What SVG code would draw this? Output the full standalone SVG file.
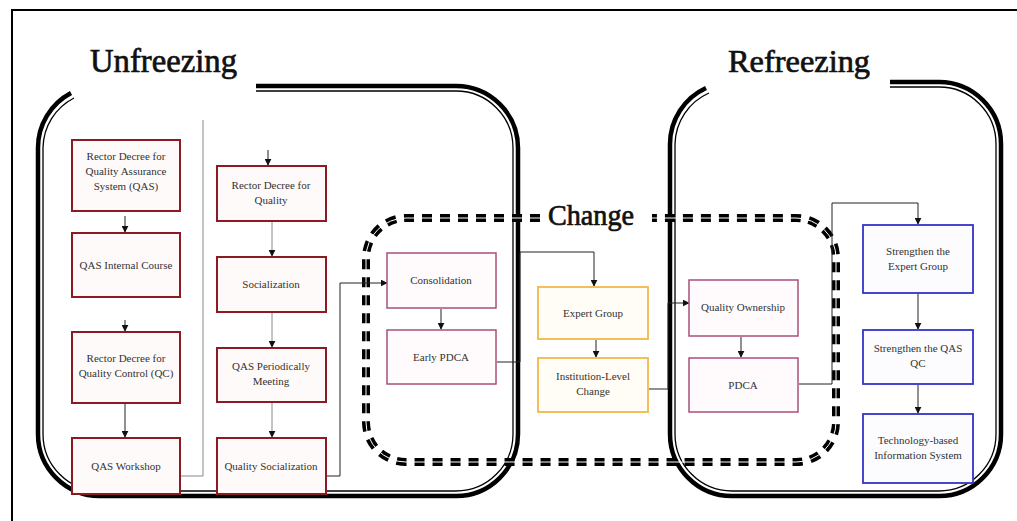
<svg xmlns="http://www.w3.org/2000/svg" width="1017" height="521" viewBox="0 0 1017 521">
<defs>
<marker id="ah" viewBox="0 0 10 10" refX="9" refY="5" markerWidth="7" markerHeight="7" orient="auto" markerUnits="userSpaceOnUse">
<path d="M0,0 L10,5 L0,10 z" fill="#111"/>
</marker>
</defs>
<style>
.title{font-family:"Liberation Serif","DejaVu Serif",serif;fill:#111;stroke:#111;stroke-width:0.7;}
.t{font-family:"Liberation Serif","DejaVu Serif",serif;font-size:11px;fill:#333;text-anchor:middle;}
.red{fill:#fffafa;stroke:#8b1a24;stroke-width:2;}
.pink{fill:#fffafc;stroke:#a8507a;stroke-width:1.5;}
.org{fill:#fffdf6;stroke:#f2b84a;stroke-width:1.8;}
.blue{fill:#fcfcff;stroke:#3434c8;stroke-width:1.8;}
.c{fill:none;stroke:#222;stroke-width:1;}
.cg{fill:none;stroke:#888;stroke-width:1;}
.fo{fill:none;stroke:#000;stroke-width:4.5;}
.fi{fill:none;stroke:#000;stroke-width:1.3;}
</style>
<rect width="1017" height="521" fill="#fff"/>
<path d="M12 521 L12 10 L1017 10" fill="none" stroke="#000" stroke-width="2"/>

<g id="frame-unfreezing">
<path class="fo" d="M256 86 L456 86 A62 62 0 0 1 518 148 L518 434 A62 62 0 0 1 456 496 L100 496 A62 62 0 0 1 38 434 L38 148 A62 62 0 0 1 71 93"/>
<path class="fi" d="M256 91 L456 91 A57 57 0 0 1 513 148 L513 434 A57 57 0 0 1 456 491 L100 491 A57 57 0 0 1 43 434 L43 148 A57 57 0 0 1 74 98"/>
<text class="title" x="90" y="72" font-size="33" textLength="147" lengthAdjust="spacingAndGlyphs">Unfreezing</text>
</g>

<g id="frame-refreezing">
<path class="fo" d="M890 82 L939 82 A62 62 0 0 1 1001 144 L1001 434 A62 62 0 0 1 939 496 L732 496 A62 62 0 0 1 670 434 L670 144 A62 62 0 0 1 706 88"/>
<path class="fi" d="M890 87 L939 87 A57 57 0 0 1 996 144 L996 434 A57 57 0 0 1 939 491 L732 491 A57 57 0 0 1 675 434 L675 144 A57 57 0 0 1 709 93"/>
<text class="title" x="728" y="72" font-size="32" textLength="142" lengthAdjust="spacingAndGlyphs">Refreezing</text>
</g>

<g id="frame-change">
<path d="M540 218 L406 218 A40 40 0 0 0 366 258 L366 422 A40 40 0 0 0 406 462 L796 462 A40 40 0 0 0 836 422 L836 258 A40 40 0 0 0 796 218 L652 218" fill="none" stroke="#000" stroke-width="8" stroke-dasharray="10 8"/>
<path d="M540 218 L406 218 A40 40 0 0 0 366 258 L366 422 A40 40 0 0 0 406 462 L796 462 A40 40 0 0 0 836 422 L836 258 A40 40 0 0 0 796 218 L652 218" fill="none" stroke="#fff" stroke-width="1"/>
<text class="title" x="548" y="225" font-size="29" textLength="86" lengthAdjust="spacingAndGlyphs">Change</text>
</g>

<g id="connectors">
<line class="c" x1="125" y1="216" x2="125" y2="232" marker-end="url(#ah)"/>
<line class="c" x1="125" y1="320" x2="125" y2="331" marker-end="url(#ah)"/>
<line class="c" x1="125" y1="404" x2="125" y2="437" marker-end="url(#ah)"/>
<polyline class="cg" points="181,476 203,476 203,120"/>
<line class="c" x1="268" y1="150" x2="268" y2="165" marker-end="url(#ah)"/>
<line class="cg" x1="272" y1="222" x2="272" y2="256" marker-end="url(#ah)"/>
<line class="cg" x1="272" y1="313" x2="272" y2="347" marker-end="url(#ah)"/>
<line class="cg" x1="272" y1="403" x2="272" y2="437" marker-end="url(#ah)"/>
<polyline class="c" points="327,476 340,476 340,283 387,283" marker-end="url(#ah)"/>
<line class="c" x1="441" y1="309" x2="441" y2="329" marker-end="url(#ah)"/>
<polyline class="c" points="497,362 520,362 520,252 594,252 594,286" marker-end="url(#ah)"/>
<line class="c" x1="596" y1="340" x2="596" y2="357" marker-end="url(#ah)"/>
<polyline class="c" points="649,389 668,389 668,303 689,303" marker-end="url(#ah)"/>
<line class="c" x1="741" y1="337" x2="741" y2="357" marker-end="url(#ah)"/>
<polyline class="c" points="799,384 832,384 832,203 918,203 918,224" marker-end="url(#ah)"/>
<line class="c" x1="918" y1="294" x2="918" y2="329" marker-end="url(#ah)"/>
<line class="c" x1="918" y1="385" x2="918" y2="413" marker-end="url(#ah)"/>
</g>

<g id="n-rector-qas">
<rect class="red" x="72" y="140" width="108" height="71"/>
<text class="t" x="126" y="160">Rector Decree for</text>
<text class="t" x="126" y="175">Quality Assurance</text>
<text class="t" x="126" y="190">System (QAS)</text>
</g>
<g id="n-qas-course">
<rect class="red" x="72" y="233" width="108" height="64"/>
<text class="t" x="126" y="269">QAS Internal Course</text>
</g>
<g id="n-rector-qc">
<rect class="red" x="72" y="332" width="108" height="71"/>
<text class="t" x="126" y="362">Rector Decree for</text>
<text class="t" x="126" y="377">Quality Control (QC)</text>
</g>
<g id="n-qas-workshop">
<rect class="red" x="72" y="438" width="108" height="56"/>
<text class="t" x="126" y="470">QAS Workshop</text>
</g>

<g id="n-rector-quality">
<rect class="red" x="217" y="166" width="109" height="55"/>
<text class="t" x="271" y="189">Rector Decree for</text>
<text class="t" x="271" y="204">Quality</text>
</g>
<g id="n-socialization">
<rect class="red" x="217" y="257" width="109" height="55"/>
<text class="t" x="271" y="288">Socialization</text>
</g>
<g id="n-qas-meeting">
<rect class="red" x="217" y="348" width="109" height="54"/>
<text class="t" x="271" y="370">QAS Periodically</text>
<text class="t" x="271" y="385">Meeting</text>
</g>
<g id="n-quality-socialization">
<rect class="red" x="217" y="438" width="109" height="56"/>
<text class="t" x="271" y="470">Quality Socialization</text>
</g>

<g id="n-consolidation">
<rect class="pink" x="387" y="253" width="109" height="55"/>
<text class="t" x="441" y="284">Consolidation</text>
</g>
<g id="n-early-pdca">
<rect class="pink" x="387" y="330" width="109" height="54"/>
<text class="t" x="441" y="361">Early PDCA</text>
</g>

<g id="n-expert-group">
<rect class="org" x="538" y="287" width="110" height="52"/>
<text class="t" x="593" y="317">Expert Group</text>
</g>
<g id="n-institution-change">
<rect class="org" x="538" y="358" width="110" height="54"/>
<text class="t" x="593" y="380">Institution-Level</text>
<text class="t" x="593" y="395">Change</text>
</g>

<g id="n-quality-ownership">
<rect class="pink" x="689" y="280" width="109" height="56"/>
<text class="t" x="743" y="311">Quality Ownership</text>
</g>
<g id="n-pdca">
<rect class="pink" x="689" y="358" width="109" height="54"/>
<text class="t" x="743" y="389">PDCA</text>
</g>

<g id="n-strengthen-expert">
<rect class="blue" x="863" y="225" width="110" height="68"/>
<text class="t" x="918" y="255">Strengthen the</text>
<text class="t" x="918" y="270">Expert Group</text>
</g>
<g id="n-strengthen-qas">
<rect class="blue" x="863" y="330" width="110" height="54"/>
<text class="t" x="918" y="352">Strengthen the QAS</text>
<text class="t" x="918" y="367">QC</text>
</g>
<g id="n-tech-info">
<rect class="blue" x="863" y="414" width="110" height="69"/>
<text class="t" x="918" y="444">Technology-based</text>
<text class="t" x="918" y="459">Information System</text>
</g>
</svg>
